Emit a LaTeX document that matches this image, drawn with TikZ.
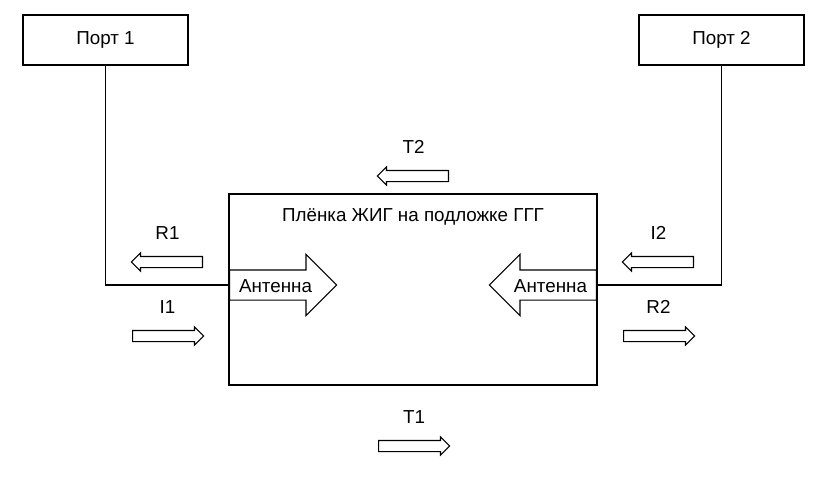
\documentclass[tikz,border=0pt]{standalone}
\usepackage{fontspec}
\setmainfont{Liberation Sans}
\usetikzlibrary{shapes,shapes.arrows,positioning}

\begin{document}
\begin{tikzpicture}[x=1pt,y=-1pt,line width=1.1pt]
        \tikzstyle{every node}=[font=\fontsize{18.8}{22}\selectfont]

        \tikzstyle{port}=[draw,minimum width=165pt,minimum height=50pt]
        \tikzstyle{film}=[draw,minimum width=368pt,minimum height=191pt]
        \tikzstyle{antenna}=[draw,fill=white,single arrow,single arrow head extend=15.5pt,text height=14pt,text depth=0pt,inner ysep=7.5pt,inner xsep=2pt,minimum height=107pt]
        \tikzstyle{wave}=[draw,single arrow,single arrow head extend=3.5pt,text height=0pt,text depth=0pt,inner ysep=5pt,inner xsep=0pt,minimum height=71pt,anchor=tail]
        \tikzstyle{lbl}=[draw=none,yshift=29pt]

        \useasboundingbox (0,0) rectangle (822,477);

        \node[port] (port1) at (105.5,40) {Порт 1};
        \node[port] (port2) at (721.5,40) {Порт 2};
        \node[film] (film) at (413,289.5) {};
        \node[draw=none] (title) at (413,217) {Плёнка ЖИГ на подложке ГГГ};

        \node[antenna,anchor=tail] (ant1) at (229,285) {Антенна};
        \node[antenna,shape border rotate=180,anchor=tail] (ant2) at (597,285) {Антенна};

        \draw (port1.south) |- (ant1.tail);
        \draw (port2.south) |- (ant2.tail);

        %waves on the port 1 side
        \node[wave,shape border rotate=180] at (203,262) (r1) {};
        \node[lbl] at (167.5,262) (r1_label) {R1};
        \node[wave] at (132,336) (i1) {};
        \node[lbl] at (167.5,336) (i1_label) {I1};

        %waves on the port 2 side
        \node[wave,shape border rotate=180] at (694,262) (i2) {};
        \node[lbl] at (658.5,262) (i2_label) {I2};
        \node[wave] at (623,336) (r2) {};
        \node[lbl] at (658.5,336) (r2_label) {R2};

        %transmitted waves
        \node[wave,shape border rotate=180] at (449,176) (t2) {};
        \node[lbl] at (413.5,176) (t2_label) {T2};
        \node[wave] at (378,446) (t1) {};
        \node[lbl] at (414,446) (t1_label) {T1};
\end{tikzpicture}
\end{document}
